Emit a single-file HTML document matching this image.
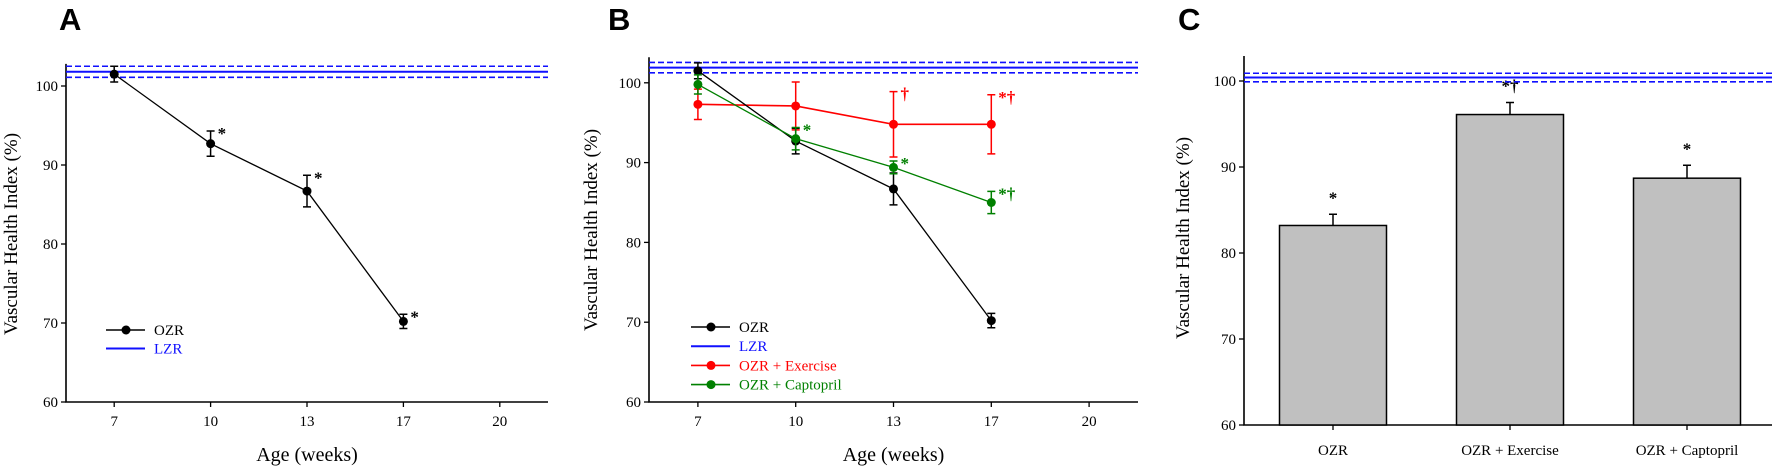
<!DOCTYPE html>
<html><head><meta charset="utf-8"><style>
html,body{margin:0;padding:0;background:#fff;width:1772px;height:466px;overflow:hidden}
svg{display:block}
text{font-family:"Liberation Serif",serif}
.lbl{font-family:"Liberation Sans",sans-serif;font-weight:bold;font-size:31px}
</style></head><body>
<svg id="fig" width="1772" height="466" viewBox="0 0 1772 466">
<text class="lbl" x="59" y="30">A</text>
<text class="lbl" x="608" y="30">B</text>
<text class="lbl" x="1178" y="30">C</text>
</svg>
<script>
// ---- data ----
const weekTicks = ["7","10","13","17","20"];
const yTicks = [60,70,80,90,100];
const ozrMean = [101.5,92.7,86.7,70.2];
const ozrErr = [1.0,1.6,2.0,0.9];
const exMean = [97.3,97.1,94.8,94.8];
const exErr = [1.9,3.0,4.1,3.7];
const capMean = [99.8,93.0,89.4,85.0];
const capErr = [1.2,1.4,0.8,1.4];
const lzrA = [101.8,0.7];
const lzrB = [101.9,0.65];
const lzrC = [100.4,0.5];
const barCats = ["OZR","OZR + Exercise","OZR + Captopril"];
const barMean = [83.2,96.1,88.7];
const barErr = [1.3,1.4,1.5];
const sigA = ["","*","*","*"];
const sigEx = ["","","†","*†"];
const sigCap = ["","*","*","*†"];
const sigBar = ["*","*†","*"];

const NS="http://www.w3.org/2000/svg";
const svg=document.getElementById('fig');
function mk(tag,at,parent){const e=document.createElementNS(NS,tag);for(const k in at)e.setAttribute(k,at[k]);(parent||svg).appendChild(e);return e;}
function txt(s,x,y,at,parent){const e=mk('text',Object.assign({x:x,y:y},at),parent);e.textContent=s;return e;}

function panel(p){
  const g=mk('g',{});
  
  
  const X=i=>p.x0+(i+0.5)*p.dx;
  const Y=v=>p.yb-(v-60)*p.ky;
  const top=Y(p.ymax);
  // axes
  const ax=mk('path',{d:`M${p.x0} ${top} V${p.yb} H${p.x1}`,stroke:'#000','stroke-width':1.6,fill:'none'},g);
  
  
  yTicks.forEach(v=>{
    mk('line',{x1:p.x0-5,x2:p.x0,y1:Y(v),y2:Y(v),stroke:'#000','stroke-width':1.3},g);
    const t=txt(String(v),p.x0-8,Y(v)+5,{'font-size':15,'text-anchor':'end'},g);
    
    
  });
  const yt=txt('Vascular Health Index (%)',0,0,{'font-size':19,'text-anchor':'middle',transform:`translate(${p.ytx},${p.yty}) rotate(-90)`},g);
  
  
  p.X=X;p.Y=Y;p.g=g;
  return p;
}
function lzr(p,l){
  const s=mk('line',{x1:p.x0,x2:p.x1,y1:p.Y(l[0]),y2:p.Y(l[0]),stroke:'#1010ff','stroke-width':2},p.g);
  
  
  [l[0]+l[1],l[0]-l[1]].forEach(v=>{
    const d=mk('line',{x1:p.x0,x2:p.x1,y1:p.Y(v),y2:p.Y(v),stroke:'#1010ff','stroke-width':1.6,'stroke-dasharray':'6 3'},p.g);
    
    
  });
}
function xAxis(p){
  weekTicks.forEach((s,i)=>{
    mk('line',{x1:p.X(i),x2:p.X(i),y1:p.yb,y2:p.yb+5,stroke:'#000','stroke-width':1.3},p.g);
    const t=txt(s,p.X(i),p.yb+24,{'font-size':15,'text-anchor':'middle'},p.g);
    
    
  });
  const t=txt('Age (weeks)',(p.x0+p.x1)/2,p.yb+59,{'font-size':20,'text-anchor':'middle'},p.g);
  
  
}
function series(p,mean,err,color,name,sig,sw){
  const g=mk('g',{},p.g);
  
  
  mk('polyline',{points:mean.map((v,i)=>p.X(i)+','+p.Y(v)).join(' '),fill:'none',stroke:color,'stroke-width':sw},g);
  mean.forEach((v,i)=>{
    const x=p.X(i),a=p.Y(v+err[i]),b=p.Y(v-err[i]);
    mk('path',{d:`M${x} ${a}V${b}M${x-4} ${a}H${x+4}M${x-4} ${b}H${x+4}`,stroke:color,'stroke-width':1.5,fill:'none'},g);
    const c=mk('circle',{cx:x,cy:p.Y(v),r:4.5,fill:color},g);
    
    
    if(sig&&sig[i]){const t=txt(sig[i],x+7,p.Y(v+err[i])+8,{'font-size':17,fill:color,'font-weight':'bold'},g);
      
      }
  });
}
function legend(p,items,x,y0,step){
  items.forEach((it,k)=>{
    const y=y0+k*step;
    const g=mk('g',{},p.g);
    
    
    mk('line',{x1:x,x2:x+39,y1:y,y2:y,stroke:it[1],'stroke-width':it[2]?1.6:2},g);
    if(it[2])mk('circle',{cx:x+20,cy:y,r:4.5,fill:it[1]},g);
    txt(it[0],x+48,y+5,{'font-size':15,fill:it[1]},g);
  });
}

// Panel A
const A=panel({name:'panel-a-chart',x0:66,x1:548,dx:96.4,yb:402,ky:7.9,ymax:102.8,ytx:17,yty:234});
lzr(A,lzrA);
series(A,ozrMean,ozrErr,'#000','ozr-series',sigA,1.3);
xAxis(A);
legend(A,[['OZR','#000',1],['LZR','#1010ff',0]],106,330,18.5);

// Panel B
const B=panel({name:'panel-b-chart',x0:649,x1:1138,dx:97.8,yb:402,ky:7.98,ymax:103.2,ytx:597,yty:230});
lzr(B,lzrB);
series(B,exMean,exErr,'#ff0000','exercise-series',sigEx,1.6);
series(B,ozrMean,ozrErr,'#000','ozr-series',null,1.3);
series(B,capMean,capErr,'#008000','captopril-series',sigCap,1.3);
xAxis(B);
legend(B,[['OZR','#000',1],['LZR','#1010ff',0],['OZR + Exercise','#ff0000',1],['OZR + Captopril','#008000',1]],691,327,19.2);

// Panel C
const C=panel({name:'panel-c-chart',x0:1244,x1:1772,dx:0,yb:425,ky:8.6,ymax:102.9,ytx:1189,yty:238});
const bc=[1333,1510,1687];
barCats.forEach((s,i)=>{
  const x=bc[i],y=C.Y(barMean[i]);
  const r=mk('rect',{x:x-53.5,y:y,width:107,height:C.yb-y,fill:'#c0c0c0',stroke:'#000','stroke-width':1.5},C.g);
  
  
  const e=C.Y(barMean[i]+barErr[i]);
  mk('path',{d:`M${x} ${y}V${e}M${x-4} ${e}H${x+4}`,stroke:'#000','stroke-width':1.5,fill:'none'},C.g);
  const t=txt(sigBar[i],x,e-11,{'font-size':17,'text-anchor':'middle','font-weight':'bold'},C.g);
  
  
  mk('line',{x1:x,x2:x,y1:C.yb,y2:C.yb+5,stroke:'#000','stroke-width':1.3},C.g);
  const l=txt(s,x,C.yb+30,{'font-size':15,'text-anchor':'middle'},C.g);
  
  
});
lzr(C,lzrC);
</script>
</body></html>
